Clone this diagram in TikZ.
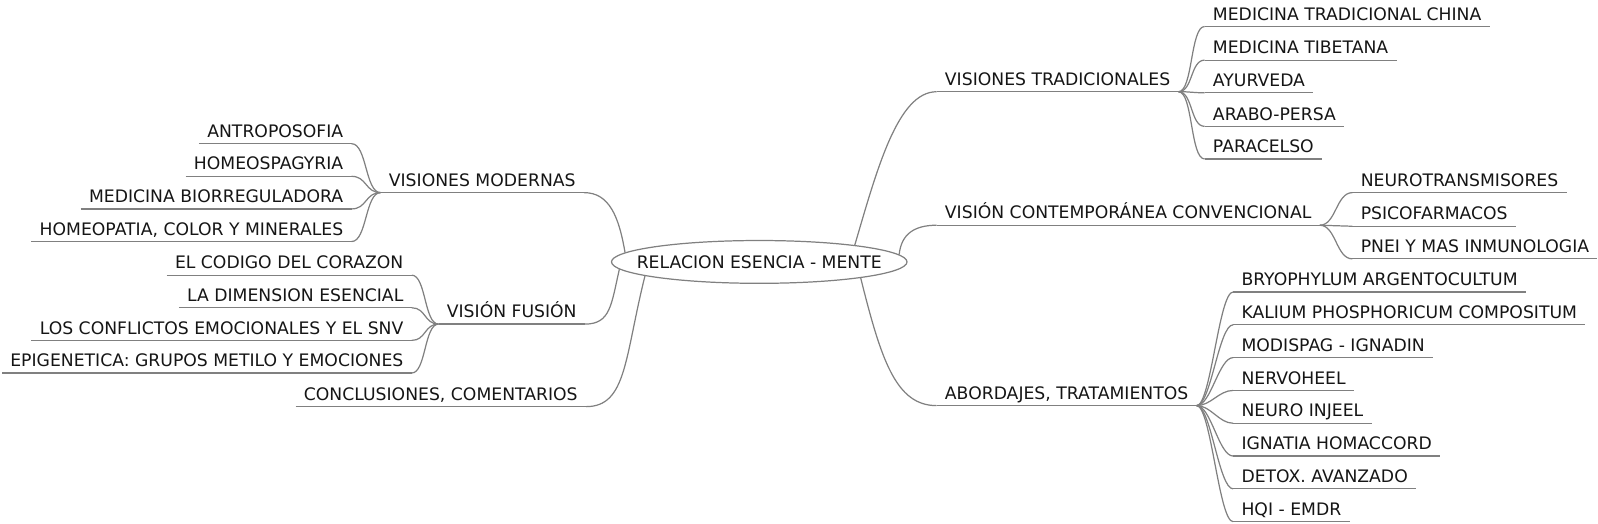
\documentclass[tikz,border=0pt]{standalone}
\usepackage{fontspec}
\setmainfont{DejaVu Sans}
\usetikzlibrary{shapes.geometric}
\definecolor{linegray}{HTML}{808080}
\definecolor{textcol}{HTML}{151515}
\newcommand\mmfont{\fontsize{16.9pt}{20pt}\selectfont}
\begin{document}
\begin{tikzpicture}[x=1pt,y=-1pt,
  conn/.style={draw=linegray, line width=1.2pt},
  topic/.style={inner xsep=8pt, inner ysep=6pt, text depth=0pt, text height=12pt,
    font=\mmfont, text=textcol,
    append after command={(\tikzlastnode.south west) edge[conn] (\tikzlastnode.south east)}},
  rtopic/.style={topic, anchor=south west},
  ltopic/.style={topic, anchor=south east},
  rootnode/.style={ellipse, draw=linegray, fill=white, line width=1.2pt,
    minimum width=290pt, minimum height=42pt, inner sep=0pt, font=\mmfont, text=textcol}]
\useasboundingbox (0,0) rectangle (1568,514);

\node[rootnode] (root) at (745,257) {\makebox[0pt]{RELACION ESENCIA - MENTE}};

% right main topics
\node[rtopic] (VT)  at (919,90)  {VISIONES TRADICIONALES};
\node[rtopic] (VCC) at (919,221) {VISIÓN CONTEMPORÁNEA CONVENCIONAL};
\node[rtopic] (AT)  at (919,398) {ABORDAJES, TRATAMIENTOS};
% left main topics
\node[ltopic] (VM) at (573,189) {VISIONES MODERNAS};
\node[ltopic] (VF) at (574,318) {VISIÓN FUSIÓN};
\node[ltopic] (CC) at (575,399) {CONCLUSIONES, COMENTARIOS};

\draw[conn] (root.10)  .. controls +(22,-75) and +(-38,0) .. (VT.south west);
\draw[conn] (root.3)   .. controls +(2,-20) and +(-22,0) .. (VCC.south west);
\draw[conn] (root.-9)  .. controls +(20,80) and +(-40,0) .. (AT.south west);
\draw[conn] (root.176) .. controls +(-6,-35) and +(25,0) .. (VM.south east);
\draw[conn] (root.183) .. controls +(-8,35) and +(25,0) .. (VF.south east);
\draw[conn] (root.187) .. controls +(-20,80) and +(40,0) .. (CC.south east);

% VT children
\node[rtopic] (MTC) at (1182,26)  {MEDICINA TRADICIONAL CHINA};
\node[rtopic] (MTB) at (1182,59)  {MEDICINA TIBETANA};
\node[rtopic] (AYU) at (1182,91)  {AYURVEDA};
\node[rtopic] (ARA) at (1182,124) {ARABO-PERSA};
\node[rtopic] (PAR) at (1182,156) {PARACELSO};
\foreach \c in {MTC,MTB,AYU,ARA,PAR}
  \draw[conn] (VT.south east) .. controls +(14,0) and +(-14,0) .. (\c.south west);

% VCC children
\node[rtopic] (NEU)  at (1327,189) {NEUROTRANSMISORES};
\node[rtopic] (PSI)  at (1327,222) {PSICOFARMACOS};
\node[rtopic] (PNEI) at (1327,254) {PNEI Y MAS INMUNOLOGIA};
\foreach \c in {NEU,PSI,PNEI}
  \draw[conn] (VCC.south east) .. controls +(16,0) and +(-16,0) .. (\c.south west);

% AT children
\node[rtopic] (BRY) at (1210,286.5) {BRYOPHYLUM ARGENTOCULTUM};
\node[rtopic] (KAL) at (1210,318.7) {KALIUM PHOSPHORICUM COMPOSITUM};
\node[rtopic] (MOD) at (1210,350.9) {MODISPAG - IGNADIN};
\node[rtopic] (NER) at (1210,383.1) {NERVOHEEL};
\node[rtopic] (NIJ) at (1210,415.3) {NEURO INJEEL};
\node[rtopic] (IGN) at (1210,447.5) {IGNATIA HOMACCORD};
\node[rtopic] (DET) at (1210,479.7) {DETOX. AVANZADO};
\node[rtopic] (HQI) at (1210,511.9) {HQI - EMDR};
\foreach \c in {BRY,KAL,MOD,NER,NIJ,IGN,DET,HQI}
  \draw[conn] (AT.south east) .. controls +(14,0) and +(-14,0) .. (\c.south west);

% VM children
\node[ltopic] (ANT) at (345,141) {ANTROPOSOFIA};
\node[ltopic] (HOM) at (345,173) {HOMEOSPAGYRIA};
\node[ltopic] (MBI) at (345,205) {MEDICINA BIORREGULADORA};
\node[ltopic] (HCM) at (345,237) {HOMEOPATIA, COLOR Y MINERALES};
\foreach \c in {ANT,HOM,MBI,HCM}
  \draw[conn] (\c.south east) .. controls +(15,0) and +(-15,0) .. (VM.south west);

% VF children
\node[ltopic] (COD) at (404,270) {EL CODIGO DEL CORAZON};
\node[ltopic] (DIM) at (404,302) {LA DIMENSION ESENCIAL};
\node[ltopic] (CON) at (404,334) {LOS CONFLICTOS EMOCIONALES Y EL SNV};
\node[ltopic] (EPI) at (404,366) {EPIGENETICA: GRUPOS METILO Y EMOCIONES};
\foreach \c in {COD,DIM,CON,EPI}
  \draw[conn] (\c.south east) .. controls +(14,0) and +(-14,0) .. (VF.south west);
\end{tikzpicture}
\end{document}
